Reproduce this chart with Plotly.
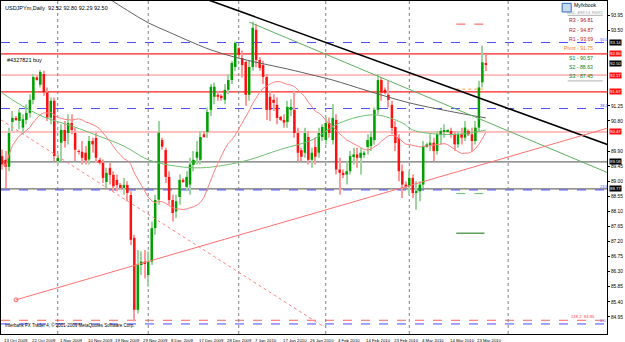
import plotly.graph_objects as go
import pandas as pd

# ---------------- data ----------------
# IBFX daily bars (Sun-Fri, no bars on 25 Dec / 1 Jan)
start_date = "2009-10-13"
end_date = "2010-03-26"
skip_days = ["12-25", "01-01"]

opens = [89.75,89.64,89.43,90.77,90.89,90.80,90.60,90.83,91.04,91.43,92.10,91.88,92.20,91.65,90.90,91.40,89.60,90.15,90.53,90.44,
         90.74,90.44,89.90,89.88,89.85,89.65,90.20,90.29,89.64,89.55,88.98,89.40,89.19,89.04,88.89,88.80,88.89,88.59,87.31,85.16,
         86.50,86.60,86.20,86.60,87.60,88.45,90.23,89.93,89.13,88.44,88.10,88.53,89.04,88.83,88.90,89.49,89.70,89.64,90.40,90.47,
         91.13,91.52,91.58,91.55,91.43,91.73,92.02,92.41,92.97,92.68,92.56,91.58,92.41,93.52,92.62,92.47,92.11,91.52,91.43,91.28,
         90.92,90.83,90.77,91.13,91.13,90.44,89.93,89.85,90.32,89.64,90.02,89.85,90.32,90.23,90.74,90.23,90.83,89.35,89.25,89.20,
         89.30,89.75,89.80,89.70,89.80,90.02,90.05,90.23,91.13,92.02,91.73,91.58,91.28,90.62,90.29,89.30,88.90,88.85,89.10,88.65,
         88.70,88.90,90.05,90.10,90.15,89.90,90.40,90.50,90.50,90.50,90.40,90.10,90.40,90.30,90.50,90.40,90.20,90.60,91.95,92.52]
highs = [89.95,89.90,90.60,91.10,90.95,91.15,91.00,91.30,91.60,92.20,92.15,92.32,92.30,91.80,91.50,91.50,89.80,90.70,90.80,91.00,
         91.00,90.60,89.95,90.20,90.05,90.35,90.30,90.45,89.70,89.65,89.40,89.55,89.30,89.20,88.95,89.10,89.00,88.70,87.40,86.95,
         86.90,86.95,86.90,87.80,88.60,90.80,90.30,90.00,89.30,88.60,88.60,89.20,89.10,89.30,89.70,89.90,90.20,90.50,90.50,91.20,
         91.90,91.95,91.70,91.60,91.90,92.20,92.60,93.16,93.00,92.90,92.60,92.60,93.76,93.70,92.70,92.60,92.20,91.70,91.60,91.50,
         90.95,91.00,91.40,91.45,91.70,90.60,90.00,90.60,90.50,90.00,90.30,90.60,90.70,90.90,90.90,91.30,91.00,89.70,89.35,89.60,
         89.90,90.00,90.00,90.00,89.90,90.40,90.50,91.20,92.20,92.10,91.80,92.00,91.40,90.80,90.40,89.50,89.00,89.30,89.20,89.00,
         89.00,90.20,90.15,90.40,90.30,90.50,90.60,90.70,90.55,90.60,90.50,90.50,90.60,90.80,90.55,90.60,90.80,92.00,93.05,92.80]
lows = [89.35,88.80,89.30,90.50,90.80,90.55,90.40,90.70,90.90,91.30,92.00,91.80,91.55,90.80,90.70,89.60,89.50,89.60,90.00,90.10,
        90.40,89.60,89.80,89.50,89.50,89.50,89.85,89.55,89.50,88.95,88.80,88.90,88.70,88.70,88.75,88.60,88.40,87.10,84.82,85.05,
        86.20,86.10,85.85,86.50,87.40,88.30,89.95,88.95,88.30,87.80,87.90,88.30,88.95,88.70,88.60,89.30,89.50,89.50,90.30,90.30,
        90.95,91.30,91.40,91.40,91.30,91.60,91.90,92.30,92.70,92.10,91.25,91.40,92.30,92.40,92.30,91.90,90.83,90.80,91.10,90.70,
        90.80,90.60,90.60,90.95,90.30,89.60,89.60,89.70,89.50,89.40,89.50,89.70,90.20,90.10,90.30,90.10,89.20,88.60,89.10,88.90,
        89.20,89.50,89.40,89.20,89.70,89.80,89.90,90.10,91.00,91.40,91.60,91.20,90.40,89.90,89.00,88.50,88.80,88.60,88.50,88.15,
        88.40,88.80,90.00,89.90,89.60,89.80,90.10,90.30,90.45,90.30,89.90,90.00,90.10,90.20,90.35,89.90,90.10,90.50,91.80,92.29]
closes = [89.50,89.43,90.44,90.89,90.85,91.05,90.85,91.04,91.43,92.11,92.05,92.26,91.65,90.90,91.40,89.75,89.70,90.53,90.20,90.74,
          90.53,89.94,89.88,89.70,89.62,90.20,90.10,89.70,89.55,89.10,89.25,89.19,88.85,88.89,88.80,88.89,88.65,87.25,85.16,86.50,
          86.60,86.55,86.60,87.60,88.44,90.45,90.03,89.13,88.44,88.05,88.40,89.04,89.00,89.13,89.50,89.64,89.88,90.32,90.35,91.07,
          91.82,91.82,91.52,91.48,91.73,92.02,92.53,93.13,92.77,92.47,91.58,92.41,93.58,92.62,92.38,92.11,91.13,91.13,91.34,90.89,
          90.83,90.75,91.22,91.22,90.44,89.85,89.73,90.44,89.64,89.85,89.73,90.44,90.62,90.74,90.44,90.89,89.35,89.25,89.20,89.30,
          89.75,89.80,89.70,89.85,89.85,90.23,90.32,91.13,92.02,91.64,91.64,91.43,90.59,90.14,89.30,88.90,88.85,89.10,88.65,88.70,
          88.90,90.05,90.10,90.15,89.90,90.40,90.50,90.50,90.50,90.40,90.10,90.40,90.30,90.60,90.40,90.20,90.60,91.80,92.55,92.50]

# moving averages (bar index, price)
ma_gray_idx = [30, 36, 42, 48, 53, 60, 67, 74, 82, 90, 95, 105, 117, 128, 139]
ma_gray_val = [94.50, 94.10, 93.73, 93.45, 93.22, 92.92, 92.70, 92.53, 92.35, 92.15, 92.02, 91.70, 91.34, 91.10, 90.89]
ma_green_idx = [0, 5, 12, 20, 27, 35, 42, 50, 57, 64, 71, 80, 89, 97, 107, 115, 118, 126, 133, 139]
ma_green_val = [91.64, 91.30, 90.92, 90.65, 90.38, 90.05, 89.64, 89.45, 89.40, 89.48, 89.64, 89.95, 90.23, 90.74, 90.98, 90.74, 90.53, 90.40, 90.42, 90.53]
red_ma_period = 21

# trend lines (bar index, price) end points
tl_black = ([59.3, 174.4], [94.41, 90.08])
tl_green = ([71.0, 174.1], [93.75, 89.25])
tl_red = ([4.0, 174.1], [85.46, 90.59])
tl_red_dot = ([-0.3, 92.5], [90.83, 84.65])

# horizontal levels
red_levels = [92.80, 91.67]
red_thin_levels = [92.17, 90.47]
gray_levels = [89.58, 88.77]
fib_levels = [93.14, 91.17, 88.74, 84.74]
fib_labels = ["50.0", "38.2", "23.6", "0.0"]
fib2_level = 84.85
fib2_label = "138.2  84.85"

# weekly pivot segments
piv_start, piv_end = 130.5, 138.6
piv_levels = [93.69, 91.75, 88.63, 87.45]
piv_colors = ["#ff5050", "#ffa040", "#60c060", "#107010"]
piv_dash = ["dash", "dot", "dash", "solid"]

pivot_text = ["R3 - 96.81", "R2 - 94.87", "R1 - 93.69", "Pivot - 91.75", "S1 - 90.57", "S2 - 88.63", "S3 - 87.45"]
pivot_text_col = ["#a01010", "#c02020", "#d02020", "#ff7a20", "#108010", "#108010", "#108010"]

# axis boxes on the price scale
box_prices = [93.14, 92.80, 92.50, 92.17, 91.67, 90.47, 89.58, 88.77]
box_colors = ["#000000", "#ff1010", "#000000", "#ff1010", "#ff1010", "#ff1010", "#000000", "#000000"]

# price-scale labels that are not hidden by the boxes
y_ticks = [84.95, 85.40, 85.85, 86.30, 86.75, 87.20, 87.65, 88.10, 88.55, 89.00, 89.45, 89.90,
           90.80, 91.25, 93.50, 93.95]
x_tick_dates = ["2009-10-13", "2009-10-22", "2009-11-01", "2009-11-10", "2009-11-19", "2009-11-29",
                "2009-12-08", "2009-12-17", "2009-12-28", "2010-01-07", "2010-01-17", "2010-01-26",
                "2010-02-04", "2010-02-14", "2010-02-23", "2010-03-04", "2010-03-14", "2010-03-23"]
separator_idx = [16, 42, 68, 93, 117, 145.4]

# ---------------- build ----------------
days = [d for d in pd.date_range(start_date, end_date, freq="D")
        if d.weekday() != 5 and d.strftime("%m-%d") not in skip_days]
idx = list(range(len(days)))
pos = {d.strftime("%Y-%m-%d"): i for i, d in enumerate(days)}

df = pd.DataFrame({"o": opens, "h": highs, "l": lows, "c": closes}, index=idx)
red_ma = df["c"].rolling(red_ma_period, min_periods=1).mean()

UP = "#00a000"
DN = "#ff1010"
UPW = "#9ed49e"
DNW = "#ff9a9a"

fig = go.Figure()

# moving averages
fig.add_trace(go.Scatter(x=ma_gray_idx, y=ma_gray_val, mode="lines", line=dict(color="#606060", width=1, shape="spline"), hoverinfo="skip"))
fig.add_trace(go.Scatter(x=ma_green_idx, y=ma_green_val, mode="lines", line=dict(color="#70c070", width=1, shape="spline"), hoverinfo="skip"))
fig.add_trace(go.Scatter(x=idx, y=red_ma, mode="lines", line=dict(color="#ff8080", width=1), hoverinfo="skip"))

# trend lines
fig.add_trace(go.Scatter(x=tl_black[0], y=tl_black[1], mode="lines", line=dict(color="#000000", width=1.6), hoverinfo="skip"))
fig.add_trace(go.Scatter(x=tl_green[0], y=tl_green[1], mode="lines", line=dict(color="#60b060", width=1), hoverinfo="skip"))
fig.add_trace(go.Scatter(x=tl_red[0], y=tl_red[1], mode="lines", line=dict(color="#ff7070", width=1), hoverinfo="skip"))
fig.add_trace(go.Scatter(x=tl_red_dot[0], y=tl_red_dot[1], mode="lines", line=dict(color="#ff8080", width=1, dash="dot"), hoverinfo="skip"))
fig.add_trace(go.Scatter(x=[tl_red[0][0]], y=[tl_red[1][0]], mode="markers",
                         marker=dict(symbol="circle-open", size=4, color="#ff6060", line=dict(width=1)), hoverinfo="skip"))

# candles: wick bars (thin, light) then body bars
min_body = 0.025
for up, wcol, bcol in ((True, UPW, UP), (False, DNW, DN)):
    xs, wb, wh, bb, bh = [], [], [], [], []
    for i, o, h, l, c in zip(idx, opens, highs, lows, closes):
        if (c >= o) != up:
            continue
        lo, hi = min(o, c), max(o, c)
        if hi - lo < min_body:
            lo, hi = (lo + hi) / 2 - min_body / 2, (lo + hi) / 2 + min_body / 2
        xs.append(i); wb.append(l); wh.append(h - l); bb.append(lo); bh.append(hi - lo)
    fig.add_trace(go.Bar(x=xs, y=wh, base=wb, width=0.29, marker=dict(color=wcol, line=dict(width=0)), hoverinfo="skip"))
    fig.add_trace(go.Bar(x=xs, y=bh, base=bb, width=0.72, marker=dict(color=bcol, line=dict(width=0)), hoverinfo="skip"))

shapes = []
def hline(y, color, width=1, dash="solid", x0=0, x1=1, xref="paper"):
    shapes.append(dict(type="line", xref=xref, yref="y", x0=x0, x1=x1, y0=y, y1=y,
                       line=dict(color=color, width=width, dash=dash), layer="below"))

for v in red_levels:
    hline(v, "#ff2020", 1.3)
for v in red_thin_levels:
    hline(v, "#ff8080", 1)
for v in gray_levels:
    hline(v, "#707070", 1.2)
for v in fib_levels:
    hline(v, "#4a4aff", 1, "dash")
hline(fib2_level, "#ff6060", 1, "dash")
for v, c, d in zip(piv_levels, piv_colors, piv_dash):
    hline(v, c, 1, d, piv_start, piv_end, "x")
for s in separator_idx:
    shapes.append(dict(type="line", xref="x", yref="paper", x0=s, x1=s, y0=0, y1=1,
                       line=dict(color="#808080", width=1, dash="dot"), layer="below"))

ann = []
def txt(x, y, s, color="#000000", size=5.5, xref="paper", yref="paper", xanchor="left", yanchor="middle", **kw):
    ann.append(dict(x=x, y=y, xref=xref, yref=yref, text=s, showarrow=False, xanchor=xanchor, yanchor=yanchor,
                    font=dict(size=size, color=color, family="Liberation Sans"), **kw))

txt(0.004, 0.995, "USDJPYm,Daily  92.52 92.80 92.29 92.50", size=5.5, yanchor="top")
txt(0.006, 92.62, "#4327821 buy", size=5.5, yref="y")
txt(0.004, 0.012, "Interbank FX Trader 4, \u00a9 2001-2009 MetaQuotes Software Corp.", size=4.5, yanchor="bottom")
txt(0.986, 0.988, "Myfxbook", size=5.2, xanchor="right")
txt(0.964, 0.964, "2010 - 4/9/9 1:4  P0GT3", size=3.3, color="#909090", xanchor="center")
piv_y = [0.943, 0.913, 0.885, 0.859, 0.829, 0.802, 0.775]
for t, c, yy in zip(pivot_text, pivot_text_col, piv_y):
    txt(0.981, yy, t, color=c, size=5.2, xanchor="right")
for v, lab in zip(fib_levels, fib_labels):
    txt(0.985, v, lab, color="#4a4aff", size=4.0, yref="y", xanchor="left", yanchor="bottom", yshift=-1)
txt(0.983, fib2_level, fib2_label, color="#ff4040", size=4.2, yref="y", xanchor="right", yanchor="bottom", yshift=-1)
for v, c in zip(box_prices, box_colors):
    txt(1.003, v, "%.2f" % v, color="#ffffff", size=4.3, yref="y", bgcolor=c, borderpad=0)

for dstr in x_tick_dates:
    d = pd.Timestamp(dstr)
    txt(pos[dstr], -0.005, "%d %s %d" % (d.day, d.strftime("%b"), d.year), size=4.3, xref="x", yanchor="top")

# pivot panel separators + logo icon
shapes.append(dict(type="line", xref="paper", yref="paper", x0=0.935, x1=0.993, y0=0.957, y1=0.957, line=dict(color="#b0b0b0", width=1)))
shapes.append(dict(type="line", xref="paper", yref="paper", x0=0.935, x1=0.993, y0=0.760, y1=0.760, line=dict(color="#b0b0b0", width=1)))
shapes.append(dict(type="rect", xref="paper", yref="paper", x0=0.926, x1=0.941, y0=0.967, y1=0.993,
                   line=dict(color="#3070c0", width=1), fillcolor="#c8dcf0"))

fig.update_layout(
    width=625, height=342, margin=dict(l=1, r=18, t=1, b=8),
    paper_bgcolor="#ffffff", plot_bgcolor="#ffffff", showlegend=False, barmode="overlay",
    shapes=shapes, annotations=ann,
    xaxis=dict(range=[-0.3, 173.8], showgrid=False, zeroline=False, showticklabels=False, ticks="",
               showline=True, linecolor="#000000", linewidth=1, mirror=True, rangeslider=dict(visible=False),
               fixedrange=True),
    yaxis=dict(range=[84.44, 94.38], side="right", showgrid=False, zeroline=False, tickvals=y_ticks,
               ticktext=["%.2f" % v for v in y_ticks], ticks="outside", ticklen=2, tickcolor="#000000",
               tickfont=dict(size=4.8, family="Liberation Sans", color="#000000"),
               showline=True, linecolor="#000000", linewidth=1, mirror=True, fixedrange=True),
)

fig.write_html("out.html")
